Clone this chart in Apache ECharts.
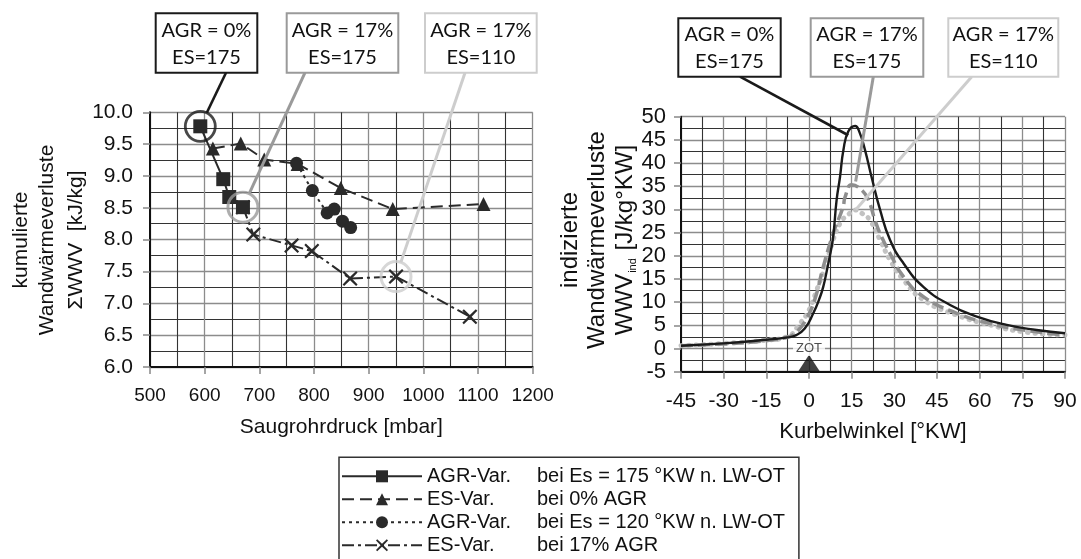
<!DOCTYPE html>
<html>
<head>
<meta charset="utf-8">
<script src="https://cdn.jsdelivr.net/npm/echarts/dist/echarts.min.js"></script>
<style>
  html, body { margin: 0; padding: 0; background: #ffffff; }
  #chart { width: 1081px; height: 559px; }
</style>
</head>
<body>
<div id="chart"></div>
<script>
// ---- left panel: cumulative wall heat loss vs. intake manifold pressure ----
const sqPressure = [592, 634, 645, 670];
const sqWwv = [9.78, 8.95, 8.67, 8.51];

const triPressure = [615, 666, 709, 770, 849, 944, 1110];
const triWwv = [9.43, 9.51, 9.26, 9.19, 8.81, 8.48, 8.56];

const dotPressure = [768, 797, 824, 837, 852, 867];
const dotWwv = [9.20, 8.77, 8.42, 8.48, 8.29, 8.19];

const crossPressure = [670, 689, 759, 796, 866, 950, 1085];
const crossWwv = [8.51, 8.08, 7.91, 7.82, 7.39, 7.42, 6.79];

const legendHead = ['AGR-Var.', 'ES-Var.', 'AGR-Var.', 'ES-Var.'];
const legendTail = ['bei Es = 175 °KW n. LW-OT', 'bei 0% AGR', 'bei Es = 120 °KW n. LW-OT', 'bei 17% AGR'];

// operating points called out by the boxes above both panels
const agrLabels = ['AGR = 0%', 'AGR = 17%', 'AGR = 17%'];
const esLabels = ['ES=175', 'ES=175', 'ES=110'];
const markedPressure = [592, 670, 950];
const markedWwv = [9.78, 8.51, 7.42];
const markedAngle = [13.8, 16.4, 16.5];
const markedRate = [46.0, 36.0, 30.0];

// ---- right panel: indicated wall heat loss rate vs. crank angle ----
const angleA = [-45, -30, -15, -7.5, -4.5, -1.5, 1.5, 3.5, 5, 6.5, 7.5, 8.5, 9.7, 10.9, 12.1, 13.8, 16.2, 17.9, 19.7, 22, 25, 28.5, 33.2, 40.2, 49.6, 59, 69.5, 80, 90];
const rateA  = [0.6, 1.1, 1.9, 2.4, 2.9, 4.3, 7.6, 10.5, 13.3, 17.5, 20.5, 24.1, 32, 37, 42.8, 46.8, 48, 46.4, 42.8, 37, 29.9, 23.4, 18.4, 13.3, 9.4, 6.9, 5.1, 4.0, 3.3];

const angleB = [-45, -30, -15, -7.5, -4, -1, 2, 5, 8.5, 12, 12.7, 15, 18.5, 20.9, 23.2, 25, 28.5, 33.2, 40.2, 52, 63.6, 75.4, 90];
const rateB  = [0.6, 1.0, 1.7, 2.5, 3.8, 6.3, 10.5, 17.6, 24.8, 30.6, 32.7, 35.3, 34.2, 32.0, 27.7, 24.8, 20.5, 15.5, 11.2, 7.6, 5.4, 4.0, 2.9];

const angleC = [-45, -30, -15, -7.5, -3.2, 0, 2.7, 5, 7.4, 10.9, 14.4, 16.2, 18.5, 21.4, 25, 28.5, 33.2, 40.2, 52, 63.6, 75.4, 90];
const rateC  = [0.6, 1.1, 1.8, 2.6, 5.4, 8.3, 12.6, 16.5, 21.2, 27, 29.2, 29.9, 29.2, 27.7, 23.4, 19.1, 14.8, 10.5, 7.2, 5.1, 3.6, 2.9];

const zotAngle = 0;

const pairs = (xs, ys) => xs.map((x, i) => [x, ys[i]]);
const seriesNames = legendHead.map((h, i) => h + ' ' + legendTail[i]);

const FONT = "'Liberation Sans', Arial, sans-serif";
const BOXFONT = "Lato, 'Open Sans', sans-serif";
const INK = '#2a2a2a';
const ringColors = ['#1a1a1a', '#9a9a9a', '#cdcdcd'];
const crossPath = 'path://M1,0 L5,3.8 L9,0 L10,1 L6.2,5 L10,9 L9,10 L5,6.2 L1,10 L0,9 L3.8,5 L0,1 Z';

function valueAxis(extra) {
  return Object.assign({
    type: 'value',
    axisLine: { show: true, onZero: false, lineStyle: { color: '#111', width: 2 } },
    axisTick: { show: true, length: 7, lineStyle: { color: '#888', width: 1.5 } },
    splitLine: { show: true, lineStyle: { color: '#8c8c8c', width: 1.3 } },
    minorTick: { show: false, splitNumber: 2 },
    minorSplitLine: { show: true, lineStyle: { color: '#333', width: 1.1 } },
    nameLocation: 'middle',
    nameTextStyle: { fontFamily: FONT, color: '#111' }
  }, extra);
}

const chart = echarts.init(document.getElementById('chart'), null, { renderer: 'canvas' });

const option = {
  backgroundColor: '#ffffff',
  animation: false,
  grid: [
    { left: 150, top: 112.3, width: 382.7, height: 254.7 },
    { left: 681, top: 116.7, width: 384, height: 255 }
  ],
  xAxis: [
    valueAxis({
      gridIndex: 0, min: 500, max: 1200, interval: 100,
      axisLabel: { fontSize: 19, color: '#111', margin: 19, fontFamily: FONT, formatter: v => String(v) },
      name: 'Saugrohrdruck [mbar]', nameGap: 50,
      nameTextStyle: { fontFamily: FONT, color: '#111', fontSize: 21 }
    }),
    valueAxis({
      gridIndex: 1, min: -45, max: 90, interval: 15,
      axisLabel: { fontSize: 21, color: '#111', margin: 19, fontFamily: FONT, formatter: v => String(v) },
      name: 'Kurbelwinkel [°KW]', nameGap: 49,
      nameTextStyle: { fontFamily: FONT, color: '#111', fontSize: 22 }
    })
  ],
  yAxis: [
    valueAxis({
      gridIndex: 0, min: 6, max: 10, interval: 0.5,
      axisLabel: { fontSize: 21, color: '#111', margin: 17, fontFamily: FONT,
        formatter: v => v.toFixed(1) }
    }),
    valueAxis({
      gridIndex: 1, min: -5, max: 50, interval: 5,
      axisLabel: { fontSize: 22, color: '#111', margin: 15, fontFamily: FONT, formatter: v => String(v) }
    })
  ],
  legend: {
    data: seriesNames,
    orient: 'vertical',
    left: 339, top: 457.3,
    height: 200,
    padding: [8, 14, 24, 2],
    itemGap: 1,
    itemWidth: 80, itemHeight: 15,
    borderColor: '#333', borderWidth: 1.5,
    backgroundColor: '#ffffff',
    selectedMode: false,
    textStyle: {
      fontFamily: FONT, fontSize: 20, color: '#111', lineHeight: 22,
      rich: {
        h: { fontFamily: FONT, fontSize: 20, width: 110, color: '#111', lineHeight: 22 },
        t: { fontFamily: FONT, fontSize: 20, color: '#111', lineHeight: 22 }
      }
    },
    formatter: name => {
      const i = seriesNames.indexOf(name);
      return '{h|' + legendHead[i] + '}{t|' + legendTail[i] + '}';
    }
  },
  series: [
    {
      name: seriesNames[0], type: 'line', xAxisIndex: 0, yAxisIndex: 0, z: 6,
      data: pairs(sqPressure, sqWwv),
      symbol: 'rect', symbolSize: 14,
      itemStyle: { color: INK },
      lineStyle: { color: INK, width: 2, type: 'solid' }
    },
    {
      name: seriesNames[1], type: 'line', xAxisIndex: 0, yAxisIndex: 0, z: 4,
      data: pairs(triPressure, triWwv),
      symbol: 'triangle', symbolSize: 14,
      itemStyle: { color: INK },
      lineStyle: { color: INK, width: 2, type: [12, 6] }
    },
    {
      name: seriesNames[2], type: 'line', xAxisIndex: 0, yAxisIndex: 0, z: 5,
      data: pairs(dotPressure, dotWwv),
      symbol: 'circle', symbolSize: 13,
      itemStyle: { color: INK },
      lineStyle: { color: INK, width: 2, type: [3, 4] }
    },
    {
      name: seriesNames[3], type: 'line', xAxisIndex: 0, yAxisIndex: 0, z: 3,
      data: pairs(crossPressure, crossWwv),
      symbol: crossPath, symbolSize: 15,
      itemStyle: { color: INK },
      lineStyle: { color: INK, width: 2, type: [12, 4, 3, 4] }
    },
    {
      name: 'rings', type: 'scatter', xAxisIndex: 0, yAxisIndex: 0, z: 7,
      symbol: 'circle', symbolSize: 30, silent: true,
      data: markedPressure.map((p, i) => ({
        value: [p, markedWwv[i]],
        itemStyle: { color: 'rgba(0,0,0,0)', borderColor: ringColors[i], borderWidth: i === 0 ? 2.8 : 3 }
      }))
    },
    {
      name: 'AGR 0% ES 175', type: 'line', xAxisIndex: 1, yAxisIndex: 1, z: 5,
      data: pairs(angleA, rateA), showSymbol: false, smooth: 0.5,
      lineStyle: { color: '#1a1a1a', width: 2.4 }
    },
    {
      name: 'AGR 17% ES 175', type: 'line', xAxisIndex: 1, yAxisIndex: 1, z: 4,
      data: pairs(angleB, rateB), showSymbol: false, smooth: 0.5,
      lineStyle: { color: '#8e8e8e', width: 3.5, type: [12, 5] }
    },
    {
      name: 'AGR 17% ES 110', type: 'line', xAxisIndex: 1, yAxisIndex: 1, z: 3,
      data: pairs(angleC, rateC), showSymbol: false, smooth: 0.5,
      lineStyle: { color: '#c2c2c2', width: 5, type: [0.5, 7], cap: 'round' }
    },
    {
      name: 'ZOT', type: 'scatter', xAxisIndex: 1, yAxisIndex: 1, z: 8, silent: true,
      data: [
        { value: [zotAngle, -3.2], symbol: 'triangle', symbolSize: [22, 17], itemStyle: { color: '#111' } },
        { value: [zotAngle, 0], symbolSize: 0,
          label: { show: true, position: 'inside', formatter: 'ZOT', fontFamily: FONT, fontSize: 13,
                   color: '#222', backgroundColor: '#ffffff', padding: [1, 3] } }
      ]
    }
  ]
};

chart.setOption(option);

// axis titles (three stacked, rotated lines per panel)
const titleGraphics = [];
const leftTitle = [['kumulierte', 21], ['Wandwärmeverluste', 47.5], ['ΣWWV  [kJ/kg]', 76]];
leftTitle.forEach(([t, x]) => titleGraphics.push({
  type: 'text', x: x, y: 240, rotation: Math.PI / 2, silent: true,
  style: { text: t, fontFamily: FONT, fontSize: 21, fill: '#111', align: 'center', verticalAlign: 'middle' }
}));
const rightTitle = [['indizierte', 570], ['Wandwärmeverluste', 597]];
rightTitle.forEach(([t, x]) => titleGraphics.push({
  type: 'text', x: x, y: 240, rotation: Math.PI / 2, silent: true,
  style: { text: t, fontFamily: FONT, fontSize: 24, fill: '#111', align: 'center', verticalAlign: 'middle' }
}));
titleGraphics.push({
  type: 'text', x: 625, y: 240, rotation: Math.PI / 2, silent: true,
  style: {
    text: '{a|WWV}{s|ind}{a| [J/kg°KW]}', align: 'center', verticalAlign: 'middle',
    rich: {
      a: { fontFamily: FONT, fontSize: 24, fill: '#111', lineHeight: 26 },
      s: { fontFamily: FONT, fontSize: 11, fill: '#111', lineHeight: 26, verticalAlign: 'bottom', padding: [8, 1, 0, 1] }
    }
  }
});

// call-out boxes with leader lines to the marked operating points
const leftBoxes = [
  { x: 155.7, y: 13.3, w: 101.6, h: 59.4, ax: 226, color: ringColors[0] },
  { x: 286.7, y: 13.3, w: 111.6, h: 59.4, ax: 305, color: ringColors[1] },
  { x: 425.0, y: 13.3, w: 111.7, h: 59.4, ax: 465, color: ringColors[2] }
];
const rightBoxes = [
  { x: 678.3, y: 18.3, w: 102.4, h: 58.4, ax: 740, color: ringColors[0] },
  { x: 810.7, y: 18.3, w: 112.6, h: 58.4, ax: 873.3, color: ringColors[1] },
  { x: 948.3, y: 18.3, w: 110.0, h: 58.4, ax: 971.7, color: ringColors[2] }
];

const calloutGraphics = [];
function addBox(b, i, target, ringR) {
  const x0 = b.ax, y0 = b.y + b.h;
  let x1 = target[0], y1 = target[1];
  if (ringR) {
    const dx = x0 - x1, dy = y0 - y1, d = Math.hypot(dx, dy);
    x1 += dx / d * ringR; y1 += dy / d * ringR;
  }
  calloutGraphics.push({
    type: 'line', silent: true, z: 20,
    shape: { x1: x0, y1: y0, x2: x1, y2: y1 },
    style: { stroke: b.color, lineWidth: i === 0 ? 2.6 : 3 }
  });
  calloutGraphics.push({
    type: 'rect', silent: true, z: 21,
    shape: { x: b.x, y: b.y, width: b.w, height: b.h },
    style: { fill: '#ffffff', stroke: b.color, lineWidth: 2 }
  });
  calloutGraphics.push({
    type: 'text', silent: true, z: 22,
    x: b.x + b.w / 2, y: b.y + b.h / 2 + 1,
    style: { text: agrLabels[i] + '\n' + esLabels[i], fontFamily: BOXFONT, fontSize: 20,
             lineHeight: 27, fill: '#111', align: 'center', verticalAlign: 'middle' }
  });
}
leftBoxes.forEach((b, i) => {
  const p = chart.convertToPixel({ gridIndex: 0 }, [markedPressure[i], markedWwv[i]]);
  addBox(b, i, p, 15);
});
rightBoxes.forEach((b, i) => {
  const p = chart.convertToPixel({ gridIndex: 1 }, [markedAngle[i], markedRate[i]]);
  addBox(b, i, p, 0);
});

chart.setOption({ graphic: titleGraphics.concat(calloutGraphics) });
</script>
</body>
</html>
